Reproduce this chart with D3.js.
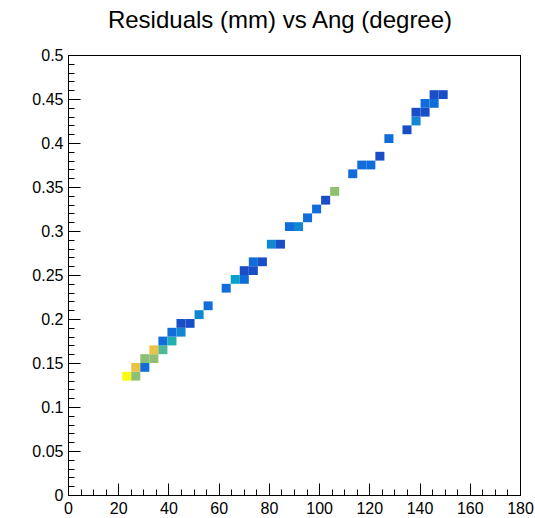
<!DOCTYPE html>
<html>
<head>
<meta charset="utf-8">
<script src="https://cdn.jsdelivr.net/npm/d3@7"></script>
<style>
  body { margin: 0; background: #fff; }
  text { font-family: 'Liberation Sans', Arial, Helvetica, sans-serif; fill: #000; }
</style>
</head>
<body>
<div id="chart"></div>
<script>
/* bin centres (x: Ang in degree, y: residual in mm) and bin contents */
const binAng = [
  23.4, 27.0, 27.0, 30.6, 30.6, 34.2, 34.2, 37.8, 37.8, 41.4,
  41.4, 45.0, 45.0, 48.6, 52.2, 55.8, 63.0, 66.6, 70.2, 70.2,
  73.8, 73.8, 77.4, 81.0, 84.6, 88.2, 91.8, 95.4, 99.0, 102.6,
  106.2, 113.4, 117.0, 120.6, 124.2, 127.8, 135.0, 138.6, 138.6, 142.2,
  142.2, 145.8, 145.8, 149.4
]
const binRes = [
  0.135, 0.135, 0.145, 0.145, 0.155, 0.155, 0.165, 0.165, 0.175, 0.175,
  0.185, 0.185, 0.195, 0.195, 0.205, 0.215, 0.235, 0.245, 0.245, 0.255,
  0.255, 0.265, 0.265, 0.285, 0.285, 0.305, 0.305, 0.315, 0.325, 0.335,
  0.345, 0.365, 0.375, 0.375, 0.385, 0.405, 0.415, 0.425, 0.435, 0.435,
  0.445, 0.445, 0.455, 0.455
]
const binCount = [
  11, 7, 9, 2, 7, 7, 9, 6, 2, 5,
  2, 3, 1, 1, 3, 2, 2, 4, 2, 1,
  1, 2, 1, 3, 1, 2, 3, 2, 2, 1,
  7, 2, 2, 2, 1, 2, 1, 3, 1, 1,
  2, 2, 1, 1
]

/* bin widths */
const angBinWidth = 3.6
const resBinWidth = 0.01

/* tick values */
const xMajorTicks = [0, 20, 40, 60, 80, 100, 120, 140, 160, 180]
const yMajorTicks = [0, 0.05, 0.1, 0.15, 0.2, 0.25, 0.3, 0.35, 0.4, 0.45, 0.5]

/* palette stops (ROOT kBird) */
const birdStops = [0, 0.125, 0.25, 0.375, 0.5, 0.625, 0.75, 0.875, 1]
const birdColors = [
  '#352a87', '#0f5cdd', '#1481d6', '#06a4ca', '#2eb7a4',
  '#87bf77', '#d1bb59', '#fec832', '#f9fb0e'
]

const titleText = 'Residuals (mm) vs Ang (degree)'

/* dimensions */
const svgWidth = 535
const svgHeight = 518
const margin = { top: 55, left: 68, right: 15, bottom: 23 }
const width = svgWidth - margin.left - margin.right
const height = svgHeight - margin.top - margin.bottom

/* scales */
const xScale = d3.scaleLinear().domain([0, 180]).range([0, width])
const yScale = d3.scaleLinear().domain([0, 0.5]).range([height, 0])
const zMax = d3.max(binCount)
const colorScale = d3
  .scaleLinear()
  .domain(birdStops.map((s) => s * zMax))
  .range(birdColors)
  .interpolate(d3.interpolateRgb)

const cells = binAng.map((a, i) => ({ ang: a, res: binRes[i], n: binCount[i] }))

const svg = d3
  .select('#chart')
  .append('svg')
  .attr('width', svgWidth)
  .attr('height', svgHeight)

/* title */
svg
  .append('text')
  .attr('x', 280)
  .attr('y', 28)
  .attr('text-anchor', 'middle')
  .style('font-size', '24px')
  .text(titleText)

const plot = svg
  .append('g')
  .attr('transform', `translate(${margin.left}, ${margin.top})`)

/* histogram cells */
plot
  .selectAll('rect.cell')
  .data(cells)
  .enter()
  .append('rect')
  .attr('class', 'cell')
  .attr('x', (d) => xScale(d.ang - angBinWidth / 2))
  .attr('y', (d) => yScale(d.res + resBinWidth / 2))
  .attr('width', (d) => xScale(d.ang + angBinWidth / 2) - xScale(d.ang - angBinWidth / 2))
  .attr('height', (d) => yScale(d.res - resBinWidth / 2) - yScale(d.res + resBinWidth / 2))
  .attr('fill', (d) => colorScale(d.n))

/* frame */
plot
  .append('rect')
  .attr('x', 0.5)
  .attr('y', 0.5)
  .attr('width', width)
  .attr('height', height)
  .attr('fill', 'none')
  .attr('stroke', '#000')
  .attr('stroke-width', 1)

/* x-axis: ticks point inward (up) */
const xAxis = plot.append('g').attr('transform', `translate(0.5, ${height + 0.5})`)
xAxis
  .selectAll('line.minor')
  .data(d3.range(0, 181, 5))
  .enter()
  .append('line')
  .attr('x1', (d) => Math.round(xScale(d)))
  .attr('x2', (d) => Math.round(xScale(d)))
  .attr('y1', 0)
  .attr('y2', (d) => (d % 20 === 0 ? -12 : -6))
  .attr('stroke', '#000')
xAxis
  .selectAll('text')
  .data(xMajorTicks)
  .enter()
  .append('text')
  .attr('x', (d) => xScale(d))
  .attr('y', 18)
  .attr('text-anchor', 'middle')
  .style('font-size', '16px')
  .text((d) => d)

/* y-axis: ticks point inward (right) */
const yAxis = plot.append('g').attr('transform', 'translate(0.5, 0.5)')
yAxis
  .selectAll('line.minor')
  .data(d3.range(0, 51))
  .enter()
  .append('line')
  .attr('x1', 0)
  .attr('x2', (d) => (d % 5 === 0 ? 12 : 6))
  .attr('y1', (d) => Math.round(yScale(d / 100)))
  .attr('y2', (d) => Math.round(yScale(d / 100)))
  .attr('stroke', '#000')
yAxis
  .selectAll('text')
  .data(yMajorTicks)
  .enter()
  .append('text')
  .attr('x', -5)
  .attr('y', (d) => yScale(d))
  .attr('dy', '0.35em')
  .attr('text-anchor', 'end')
  .style('font-size', '16px')
  .text((d) => d3.format('~g')(d))
</script>
</body>
</html>
